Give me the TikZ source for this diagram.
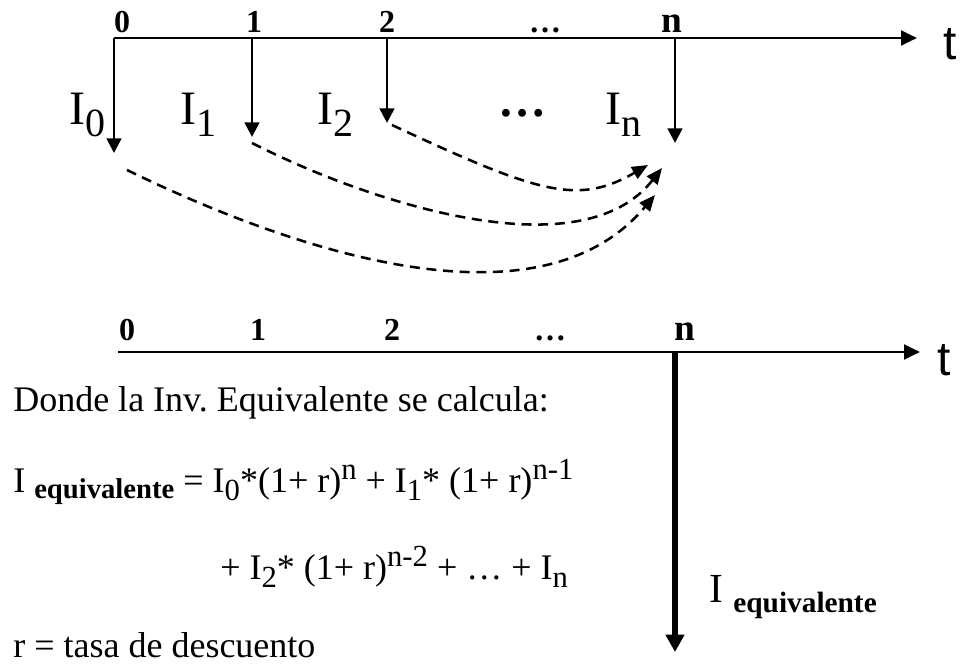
\documentclass[tikz,border=0pt]{standalone}
\usepackage{fontspec}
\setmainfont{Liberation Serif}
\newfontfamily\tfont{Liberation Sans}
\usetikzlibrary{arrows.meta}

\newcommand{\fs}[1]{\fontsize{#1}{#1}\selectfont}
\newcommand{\Ibig}[1]{{\fs{36}I}\raisebox{-9pt}{\fs{30}#1}}
\newcommand{\subtx}[1]{\raisebox{-6pt}{\fs{23}#1}}
\newcommand{\suptx}[1]{\raisebox{10pt}{\fs{23}#1}}

\begin{document}
\frenchspacing
\begin{tikzpicture}[x=0.75pt,y=0.75pt,
  axisline/.style={line width=2.2pt,-{Triangle[length=12pt,width=11pt]}},
  cash/.style={line width=2pt,-{Triangle[length=11pt,width=11pt]}},
  bigcash/.style={line width=4.8pt,-{Triangle[length=13pt,width=13.5pt]}},
  carry/.style={line width=1.9pt,dash pattern=on 7.5pt off 5pt,-{Triangle[length=12pt,width=10pt]}},
  tick/.style={inner sep=0pt,anchor=base,font=\fs{24}\bfseries},
  lab/.style={inner sep=0pt,anchor=base west}]
  \useasboundingbox (0,0) rectangle (961,-666);

  % upper time line with the single investments
  \coordinate (u0) at (114,-38);
  \coordinate (uend) at (917,-38);
  \draw[axisline] (u0) -- (uend);
  \node[lab,font=\tfont\fs{36}] (ut) at (943,-60) {t};
  \foreach \x/\l in {122/0,254/1,387/2,545/…}{
    \node[tick] (ut\l) at (\x,-33) {\l};
  }
  \node[tick,font=\fs{28}\bfseries] (utn) at (672,-33) {n};
  \foreach \nm/\x/\y in {0/114/153,1/252/137,2/387/123,n/675/143}{
    \coordinate (p\nm) at (\x,-38);
    \coordinate (q\nm) at (\x,-\y);
    \draw[cash] (p\nm) -- (q\nm);
  }
  \node[lab] (i0) at (69,-125) {\Ibig{0}};
  \node[lab] (i1) at (180,-125) {\Ibig{1}};
  \node[lab] (i2) at (317,-125) {\Ibig{2}};
  \node[lab] (in) at (605,-125) {\Ibig{n}};
  \node[inner sep=0pt,anchor=base,font=\fs{36}\bfseries] (idots) at (522,-117) {…};

  % capitalising every investment up to n
  \coordinate (s0) at (127,-170);
  \coordinate (s1) at (252,-143);
  \coordinate (s2) at (392,-125);
  \coordinate (e0) at (655,-195);
  \coordinate (e1) at (662,-168);
  \coordinate (e2) at (648,-165);
  \draw[carry] (s0) to[out=-26,in=-130,looseness=0.88] (e0);
  \draw[carry] (s1) to[out=-27,in=-128,looseness=0.82] (e1);
  \draw[carry] (s2) to[out=-25,in=-150,out looseness=1.6,in looseness=0.8] (e2);

  % lower time line with the equivalent investment
  \coordinate (l0) at (118,-352);
  \coordinate (lend) at (920,-352);
  \draw[axisline] (l0) -- (lend);
  \node[lab,font=\tfont\fs{36}] (lt) at (937,-376) {t};
  \foreach \x/\l in {127/0,258/1,392/2,550/…}{
    \node[tick] (lt\l) at (\x,-341) {\l};
  }
  \node[tick,font=\fs{28}\bfseries] (ltn) at (685,-341) {n};
  \coordinate (pN) at (675,-352);
  \coordinate (qN) at (675,-652);
  \draw[bigcash] (pN) -- (qN);
  \node[lab,font=\fs{31}] (ieq) at (709,-603) {I \raisebox{-7.5pt}{\fs{22}\bfseries equivalente}};

  \node[lab,font=\fs{27}] (txt) at (13,-412) {Donde la Inv. Equivalente se calcula:};
  \node[lab,font=\fs{27}] (eq1) at (13,-493) {I \raisebox{-4pt}{\fs{21.5}\bfseries equivalente} = I\subtx{0}*(1+ r)\suptx{n} + I\subtx{1}* (1+ r)\suptx{n-1}};
  \node[lab,font=\fs{27}] (eq2) at (220,-580) {+ I\subtx{2}* (1+ r)\suptx{n-2} + … + I\subtx{n}};
  \node[lab,font=\fs{27}] (rr) at (13,-657) {r = tasa de descuento};
\end{tikzpicture}
\end{document}
